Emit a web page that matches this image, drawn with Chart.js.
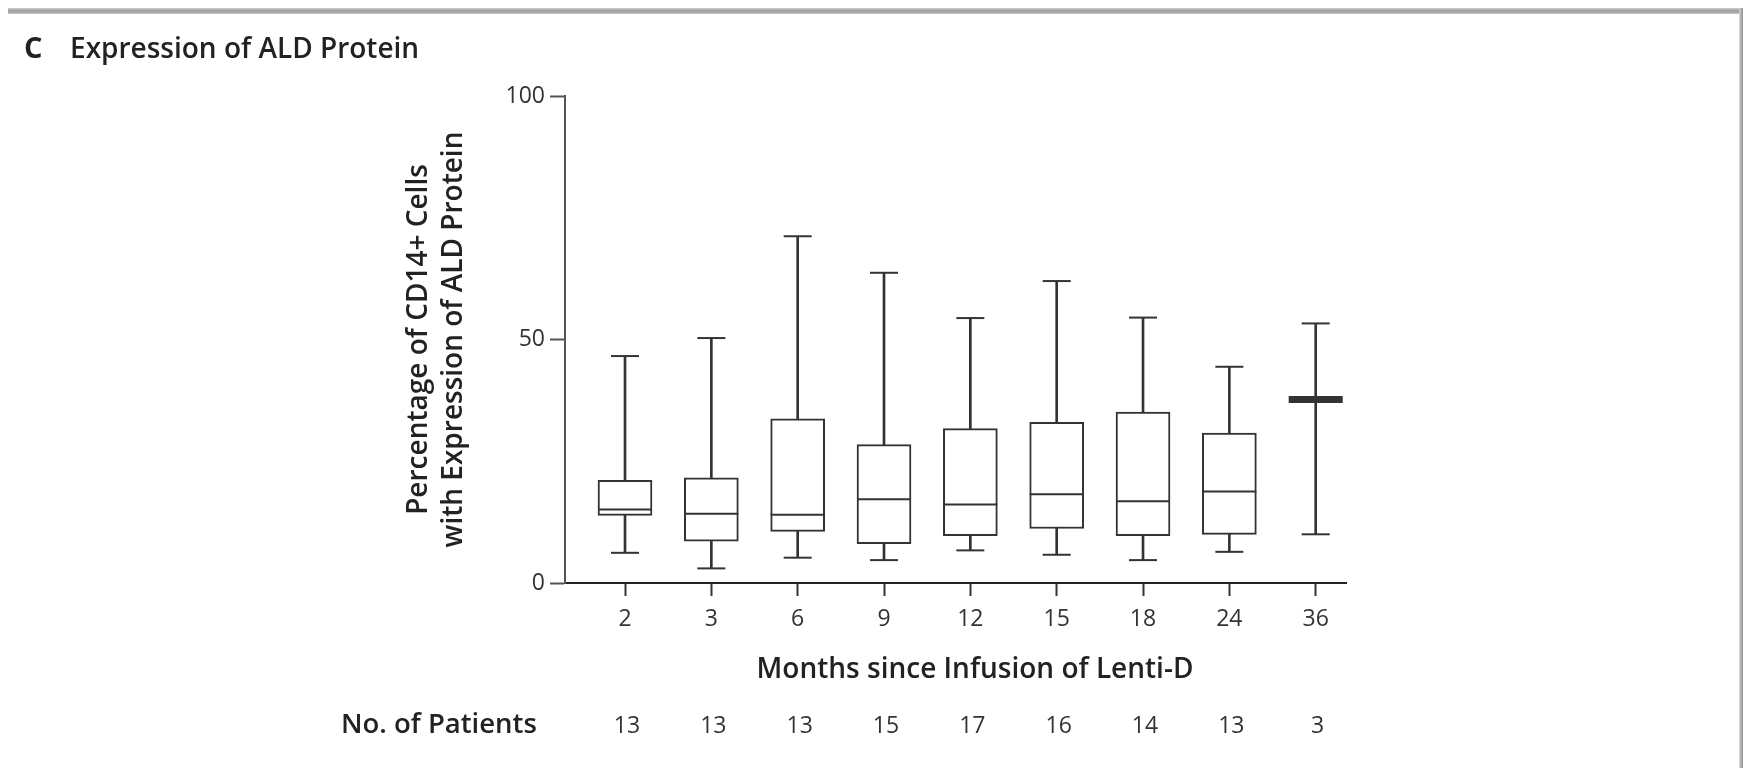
<!DOCTYPE html>
<html>
<head>
<meta charset="utf-8">
<script src="https://cdn.jsdelivr.net/npm/chart.js@4.4.1/dist/chart.umd.min.js"></script>
<style>
  html, body { margin: 0; padding: 0; background: #fff; }
  #wrap { position: relative; width: 1743px; height: 768px; overflow: hidden; }
  #wrap canvas { position: absolute; left: 0; top: 0; }
  .edge-top { position: absolute; left: 8px; right: 0; top: 8px; height: 6px;
    background: linear-gradient(#d0d0d0, #9a9a9a 50%, #c4c4c4); }
  .edge-right { position: absolute; right: 0; top: 8px; bottom: 0; width: 4px;
    background: linear-gradient(90deg, #d8d8d8, #8e8e8e); }
</style>
</head>
<body>
<div id="wrap">
  <canvas id="aldChart" width="1743" height="768"></canvas>
  <div class="edge-top"></div>
  <div class="edge-right"></div>
</div>
<script>
// months since infusion, one box per time point
const months = ['2', '3', '6', '9', '12', '15', '18', '24', '36'];
const patients = [13, 13, 13, 15, 17, 16, 14, 13, 3];

// % of CD14+ cells expressing ALD protein
const whiskerLow  = [6.2, 3.0, 5.2, 4.7, 6.7, 5.8, 4.7, 6.4, 10.0];
const quartile1   = [13.9, 8.6, 10.6, 8.1, 9.7, 11.2, 9.7, 10.0, 37.7];
const medians     = [15.1, 14.2, 14.0, 17.2, 16.1, 18.2, 16.8, 18.8, 37.7];
const quartile3   = [21.1, 21.6, 33.7, 28.4, 31.7, 33.0, 35.1, 30.8, 37.7];
const whiskerHigh = [46.6, 50.3, 71.2, 63.7, 54.4, 62.0, 54.5, 44.4, 53.3];

const yTicks = [0, 50, 100];

const INK = '#333';
const FONT = "'Open Sans', 'Noto Sans', sans-serif";

const whiskers = months.map((m, i) => ({ x: i, y: [whiskerLow[i], whiskerHigh[i]] }));
const boxes = months.map((m, i) => ({ x: i, y: [quartile1[i], quartile3[i]] }));
const caps = [];
months.forEach((m, i) => {
    caps.push({ x: i, y: whiskerLow[i] });
    caps.push({ x: i, y: whiskerHigh[i] });
});
const mids = months.map((m, i) => ({ x: i, y: medians[i] }));

// texts outside the plot: panel title, x title, patient counts
const textPlugin = {
    id: 'figText',
    afterDraw(chart) {
        const ctx = chart.ctx;
        const xs = chart.scales.x;
        ctx.save();
        ctx.fillStyle = '#222';
        ctx.textBaseline = 'alphabetic';
        ctx.textAlign = 'left';
        ctx.font = `700 29px ${FONT}`;
        ctx.fillText('C', 24, 58);
        ctx.font = `600 28px ${FONT}`;
        ctx.fillText('Expression of ALD Protein', 70, 58);

        ctx.textBaseline = 'middle';
        ctx.textAlign = 'center';
        ctx.fillText('Months since Infusion of Lenti-D', 975, 670);

        ctx.textAlign = 'left';
        ctx.font = `600 27.5px ${FONT}`;
        ctx.fillText('No. of Patients', 341, 725);

        ctx.fillStyle = '#333';
        ctx.textAlign = 'center';
        ctx.font = `400 23px ${FONT}`;
        patients.forEach((n, i) => {
            ctx.fillText(String(n), xs.getPixelForValue(i) + 2, 726);
        });
        ctx.restore();
    }
};

new Chart(document.getElementById('aldChart'), {
    type: 'bar',
    data: {
        datasets: [
            {
                label: 'whisker',
                data: whiskers,
                backgroundColor: INK,
                borderWidth: 0,
                barThickness: 2,
                grouped: false,
                order: 4
            },
            {
                label: 'box',
                data: boxes,
                backgroundColor: '#fff',
                borderColor: INK,
                borderWidth: 2,
                borderSkipped: false,
                barThickness: 54,
                grouped: false,
                order: 3
            },
            {
                type: 'scatter',
                label: 'caps',
                data: caps,
                pointStyle: 'line',
                pointRadius: 14,
                borderColor: INK,
                borderWidth: 2,
                order: 2
            },
            {
                type: 'scatter',
                label: 'median',
                data: mids,
                pointStyle: 'line',
                pointRadius: 27,
                borderColor: INK,
                borderWidth: c => (quartile1[c.dataIndex] === quartile3[c.dataIndex] ? 7 : 2),
                order: 1
            }
        ]
    },
    options: {
        responsive: false,
        animation: false,
        events: [],
        layout: { padding: { left: 0, right: 397, top: 96, bottom: 0 } },
        plugins: { legend: { display: false }, tooltip: { enabled: false } },
        scales: {
            x: {
                type: 'linear',
                offset: false,
                min: -0.695,
                max: 8.351,
                afterBuildTicks: sc => { sc.ticks = months.map((m, i) => ({ value: i })); },
                afterFit: sc => { sc.height = 185; },
                ticks: {
                    autoSkip: false,
                    maxRotation: 0,
                    padding: 10,
                    color: '#333',
                    font: { family: FONT, size: 23 },
                    callback: v => months[v]
                },
                grid: { offset: false, drawOnChartArea: false, drawTicks: true, tickLength: 13, tickWidth: 2, tickColor: INK },
                border: { display: true, width: 2, color: '#222' }
            },
            y: {
                min: 0,
                max: 100,
                afterBuildTicks: sc => { sc.ticks = yTicks.map(v => ({ value: v })); },
                afterFit: sc => { sc.width = 565; },
                ticks: {
                    padding: 5,
                    color: '#333',
                    font: { family: FONT, size: 23 }
                },
                grid: { drawOnChartArea: false, drawTicks: true, tickLength: 15, tickWidth: 2, tickColor: '#555' },
                border: { display: true, width: 2, color: '#555' },
                title: {
                    display: true,
                    text: ['Percentage of CD14+ Cells', 'with Expression of ALD Protein'],
                    color: '#222',
                    font: { family: FONT, size: 28, weight: '600', lineHeight: 1.25 },
                    padding: { top: 402, bottom: 0 }
                }
            }
        }
    },
    plugins: [textPlugin]
});
</script>
</body>
</html>
